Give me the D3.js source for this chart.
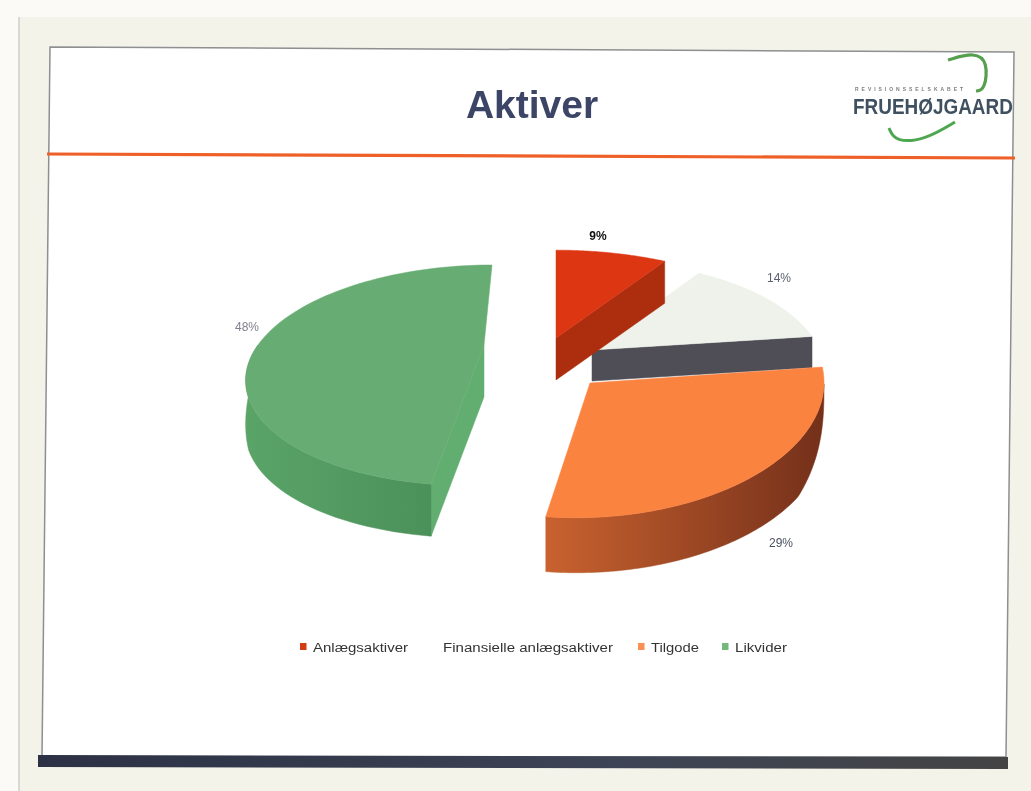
<!DOCTYPE html>
<html><head><meta charset="utf-8">
<script src="https://cdn.jsdelivr.net/npm/d3@7"></script>
<style>html,body{margin:0;padding:0;background:#fff}svg{display:block;filter:blur(.7px)}text{font-family:"Liberation Sans",Arial,sans-serif}</style>
</head><body><svg id="c" width="1031" height="791"></svg>
<script>
const categories=["Anlægsaktiver","Finansielle anlægsaktiver","Tilgode","Likvider"];
const values=[9,14,29,48];
const valueLabels=["9%","14%","29%","48%"];
const faceColors=["#dc3712","#eef2ea","#fb8340","#67ac72"];
const cutColors=["#ac2e0e","#4f4d55","#a84a20","#62ae70"];
const wallLeft=["#c2401a","#4f4d55","#c9622f","#5aa468"];
const wallRight=["#a82c0c","#4f4d55","#74301a","#468a55"];
const swatchColors=["#d23c12","#ffffff","#fb8f55","#72b87a"];
const labelColors=["#111","#5a6070","#4a5060","#80808f"];

const svg=d3.select("#c");
const W=1031,H=791;
svg.append("rect").attr("width",W).attr("height",H).attr("fill","#fbfaf6");
svg.append("rect").attr("x",19).attr("y",17).attr("width",1012).attr("height",774).attr("fill","#f4f3ea");
const line=d3.line();
svg.append("path").attr("d",line([[19,17],[19,791]])).attr("stroke","#cfcfca").attr("stroke-width",1.5);
svg.append("path").attr("d",line([[50,47],[1014,52],[1006,757],[42,757]])+"Z").attr("fill","#fff").attr("stroke","#8d8f90").attr("stroke-width",1.5);
svg.append("path").attr("d",line([[47,154],[1015,158]])).attr("stroke","#ef5f28").attr("stroke-width",3.2).attr("fill","none");
const bar=svg.append("defs").append("linearGradient").attr("id","bar");
bar.append("stop").attr("offset",0).attr("stop-color","#2c3145");
bar.append("stop").attr("offset",.6).attr("stop-color","#3d4455");
bar.append("stop").attr("offset",1).attr("stop-color","#444444");
svg.append("path").attr("d",line([[38,755],[1008,757],[1008,769],[38,767]])+"Z").attr("fill","url(#bar)");
svg.append("text").attr("x",532).attr("y",118).attr("text-anchor","middle").attr("font-size",39).attr("font-weight",700).attr("fill","#3c4566").text("Aktiver");
// logo
const logo=svg.append("text").attr("font-size",22).attr("font-weight",700).attr("fill","#3f5060").text("FRUEHØJGAARD");
const logoScale=160/logo.node().getComputedTextLength();
logo.attr("transform",`translate(853,114) scale(${logoScale},1)`);
svg.append("text").attr("x",855).attr("y",90.5).attr("font-size",5).attr("font-weight",700).attr("fill","#7a7f80").attr("textLength",108).text("REVISIONSSELSKABET");
const curve=d3.line().curve(d3.curveBasis);
svg.append("path").attr("d",curve([[948,60],[975,52],[988,62],[985,90],[976,91]])).attr("stroke","#55a04c").attr("stroke-width",3.2).attr("fill","none");
svg.append("path").attr("d",curve([[889,128],[895,142],[925,140],[955,122]])).attr("stroke","#4fa650").attr("stroke-width",3).attr("fill","none");

// one frame per slice: where it is exploded to in the perspective view
const frames=[
 {cx:556,cy:338,rx:250,ry:112,d:42,s:0,p:.275},
 {cx:592,cy:350,rx:228,ry:112,d:31,s:-.1,p:.275},
 {cx:590,cy:383,rx:234,ry:128,d:55,s:-.1,p:.05},
 {cx:484,cy:345,rx:226,ry:102,d:52,s:-.1,p:.275}];
const arcs=d3.pie().sort(null).value(d=>d)(values);
function proj(f,a,r,drop){
  const u=Math.sin(a)*r,v=-Math.cos(a)*r,w=1-f.p*v;
  const dy=f.ry*v/w;
  return [f.cx+f.rx*u/w+f.s*dy, f.cy+dy+(drop||0)];
}
const defs=svg.select("defs");
const order=[1,0,3,2];
const g=svg.append("g");
order.forEach(i=>{
  const f=frames[i],A=arcs[i];
  const angles=d3.range(0,97).map(k=>A.startAngle+(A.endAngle-A.startAngle)*k/96);
  const rim=angles.map(a=>proj(f,a,1));
  // the outer wall only shows on the front part of the rim; it tapers into the silhouette
  const front=angles.filter(a=>-Math.cos(a)>0);
  const wallTop=front.map(a=>proj(f,a,1));
  const wallLow=front.map(a=>proj(f,a,1,f.d*Math.sqrt(Math.min(1,-Math.cos(a)/.45))));
  const gid="w"+i;
  const xs=d3.extent(rim,d=>d[0]);
  const gr=defs.append("linearGradient").attr("id",gid).attr("gradientUnits","userSpaceOnUse")
    .attr("x1",xs[0]).attr("x2",xs[1]).attr("y1",0).attr("y2",0);
  gr.append("stop").attr("offset",0).attr("stop-color",wallLeft[i]);
  gr.append("stop").attr("offset",1).attr("stop-color",wallRight[i]);
  const apex=proj(f,0,0),apexLow=proj(f,0,0,f.d);
  const cut=(a)=>{const p=proj(f,a,1);return [apex,p,[p[0],p[1]+f.d],apexLow];};
  // cut face that looks towards the viewer
  const cutAngle=i===3?A.startAngle:A.endAngle;
  if(i!==2) g.append("path").attr("d",line(cut(cutAngle))+"Z").attr("fill",cutColors[i]).attr("stroke",cutColors[i]).attr("stroke-width",.5);
  // outer wall
  if(front.length) g.append("path").attr("d",line(wallTop.concat(wallLow.slice().reverse()))+"Z").attr("fill",`url(#${gid})`).attr("stroke",`url(#${gid})`).attr("stroke-width",.5);
  // top
  g.append("path").attr("d",line([apex].concat(rim))+"Z").attr("fill",faceColors[i]).attr("stroke",faceColors[i]).attr("stroke-width",.5);
});
// data labels
const labelPos=[[598,236],[779,278],[781,543],[247,327]];
valueLabels.forEach((t,i)=>{
  svg.append("text").attr("x",labelPos[i][0]).attr("y",labelPos[i][1]+4).attr("text-anchor","middle").attr("font-size",12).attr("font-weight",i==0?700:400).attr("fill",labelColors[i]).text(t);
});
// legend
const legendX=d3.scaleOrdinal().domain(categories).range([303,434,641,725]);
const legendW=[95,170,48,52];
categories.forEach((c,i)=>{
  const x=legendX(c);
  svg.append("rect").attr("x",x-3).attr("y",643).attr("width",6.5).attr("height",7).attr("fill",swatchColors[i]);
  svg.append("text").attr("x",i==1?443:x+10).attr("y",652).attr("font-size",12.5).attr("fill","#333").attr("textLength",legendW[i]).attr("lengthAdjust","spacingAndGlyphs").text(c);
});
</script></body></html>
